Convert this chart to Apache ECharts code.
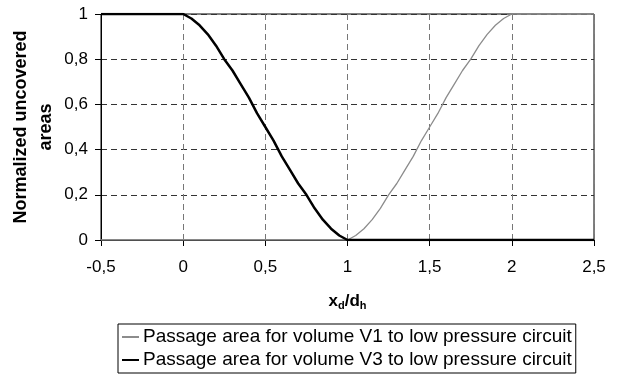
<!DOCTYPE html>
<html>
<head>
<meta charset="utf-8">
<script src="https://cdn.jsdelivr.net/npm/echarts@6/dist/echarts.min.js"></script>
<style>
  html, body { margin: 0; padding: 0; background: #fff; }
  #main { width: 622px; height: 378px; }
</style>
</head>
<body>
<div id="main"></div>
<script>
// x positions (x_d / d_h)
var xs = [-0.5,
  0, 0.05, 0.1, 0.15, 0.2, 0.25, 0.3, 0.35, 0.4, 0.45, 0.5,
  0.55, 0.6, 0.65, 0.7, 0.75, 0.8, 0.85, 0.9, 0.95, 1,
  1.05, 1.1, 1.15, 1.2, 1.25, 1.3, 1.35, 1.4, 1.45, 1.5,
  1.55, 1.6, 1.65, 1.7, 1.75, 1.8, 1.85, 1.9, 1.95, 2,
  2.5];
// passage area for volume V1 to low pressure circuit
var v1 = [0,
  0, 0, 0, 0, 0, 0, 0, 0, 0, 0, 0,
  0, 0, 0, 0, 0, 0, 0, 0, 0, 0,
  0.02, 0.05, 0.09, 0.14, 0.20, 0.25, 0.31, 0.37, 0.44, 0.5,
  0.56, 0.63, 0.69, 0.75, 0.80, 0.86, 0.91, 0.95, 0.98, 1,
  1];
// passage area for volume V3 to low pressure circuit
var v3 = [1,
  1, 0.98, 0.95, 0.91, 0.86, 0.80, 0.75, 0.69, 0.63, 0.56, 0.5,
  0.44, 0.37, 0.31, 0.25, 0.20, 0.14, 0.09, 0.05, 0.02, 0,
  0, 0, 0, 0, 0, 0, 0, 0, 0, 0,
  0, 0, 0, 0, 0, 0, 0, 0, 0, 0,
  0];
var seriesNames = [
  'Passage area for volume V1 to low pressure circuit',
  'Passage area for volume V3 to low pressure circuit'
];

function pairs(ys) {
  return xs.map(function (x, i) { return [x, ys[i]]; });
}
function comma(v) {
  return String(v).replace('.', ',');
}

var chart = echarts.init(document.getElementById('main'));
var font = 'Liberation Sans, Arial, sans-serif';

chart.setOption({
  animation: false,
  textStyle: { fontFamily: font },
  grid: {
    left: 101, right: 28, top: 14, bottom: 138,
    outerBoundsMode: 'none',
    show: true, borderColor: '#000', borderWidth: 1
  },
  xAxis: {
    type: 'value',
    min: -0.5, max: 2.5, interval: 0.5,
    name: '{b|x}{s|d}{b|/d}{s|h}',
    nameLocation: 'middle',
    nameGap: 52,
    nameTextStyle: {
      rich: {
        b: { fontFamily: font, fontSize: 17, fontWeight: 'bold', color: '#000' },
        s: { fontFamily: font, fontSize: 11, fontWeight: 'bold', color: '#000', verticalAlign: 'bottom', padding: [8, 0, 0, 0] }
      }
    },
    axisLine: { onZero: false, lineStyle: { color: '#000', width: 1 } },
    axisTick: { show: true, inside: false, length: 6, lineStyle: { color: '#000' } },
    axisLabel: { color: '#000', fontSize: 17, margin: 19, formatter: comma },
    splitLine: { show: true, lineStyle: { color: '#777', width: 1, type: [6, 4] } }
  },
  yAxis: {
    type: 'value',
    min: 0, max: 1, interval: 0.2,
    name: 'Normalized uncovered\nareas',
    nameLocation: 'middle',
    nameRotate: 90,
    nameGap: 42,
    nameMoveOverlap: false,
    nameTextStyle: { color: '#000', fontSize: 18, fontWeight: 'bold', lineHeight: 25 },
    axisLine: { show: true, onZero: false, lineStyle: { color: '#000', width: 1 } },
    axisTick: { show: true, inside: false, length: 6, lineStyle: { color: '#000' } },
    axisLabel: { color: '#000', fontSize: 17, margin: 13, formatter: comma },
    splitLine: { show: true, lineStyle: { color: '#333', width: 1, type: [6, 4] } }
  },
  legend: {
    orient: 'vertical',
    left: 118, top: 324,
    padding: [2, 4, 2, 4],
    itemGap: 1,
    itemWidth: 17, itemHeight: 2,
    borderColor: '#000', borderWidth: 1, borderRadius: 0,
    textStyle: { color: '#000', fontSize: 19, lineHeight: 22, padding: [0, 0, 0, -1] },
    data: [
      { name: seriesNames[0], icon: 'rect' },
      { name: seriesNames[1], icon: 'rect' }
    ]
  },
  series: [
    {
      name: seriesNames[0], type: 'line', data: pairs(v1),
      showSymbol: false, symbol: 'none',
      itemStyle: { color: '#8c8c8c' },
      lineStyle: { color: '#8c8c8c', width: 1.3 }
    },
    {
      name: seriesNames[1], type: 'line', data: pairs(v3),
      showSymbol: false, symbol: 'none',
      itemStyle: { color: '#000' },
      lineStyle: { color: '#000', width: 2.5 }
    }
  ]
});
</script>
</body>
</html>
